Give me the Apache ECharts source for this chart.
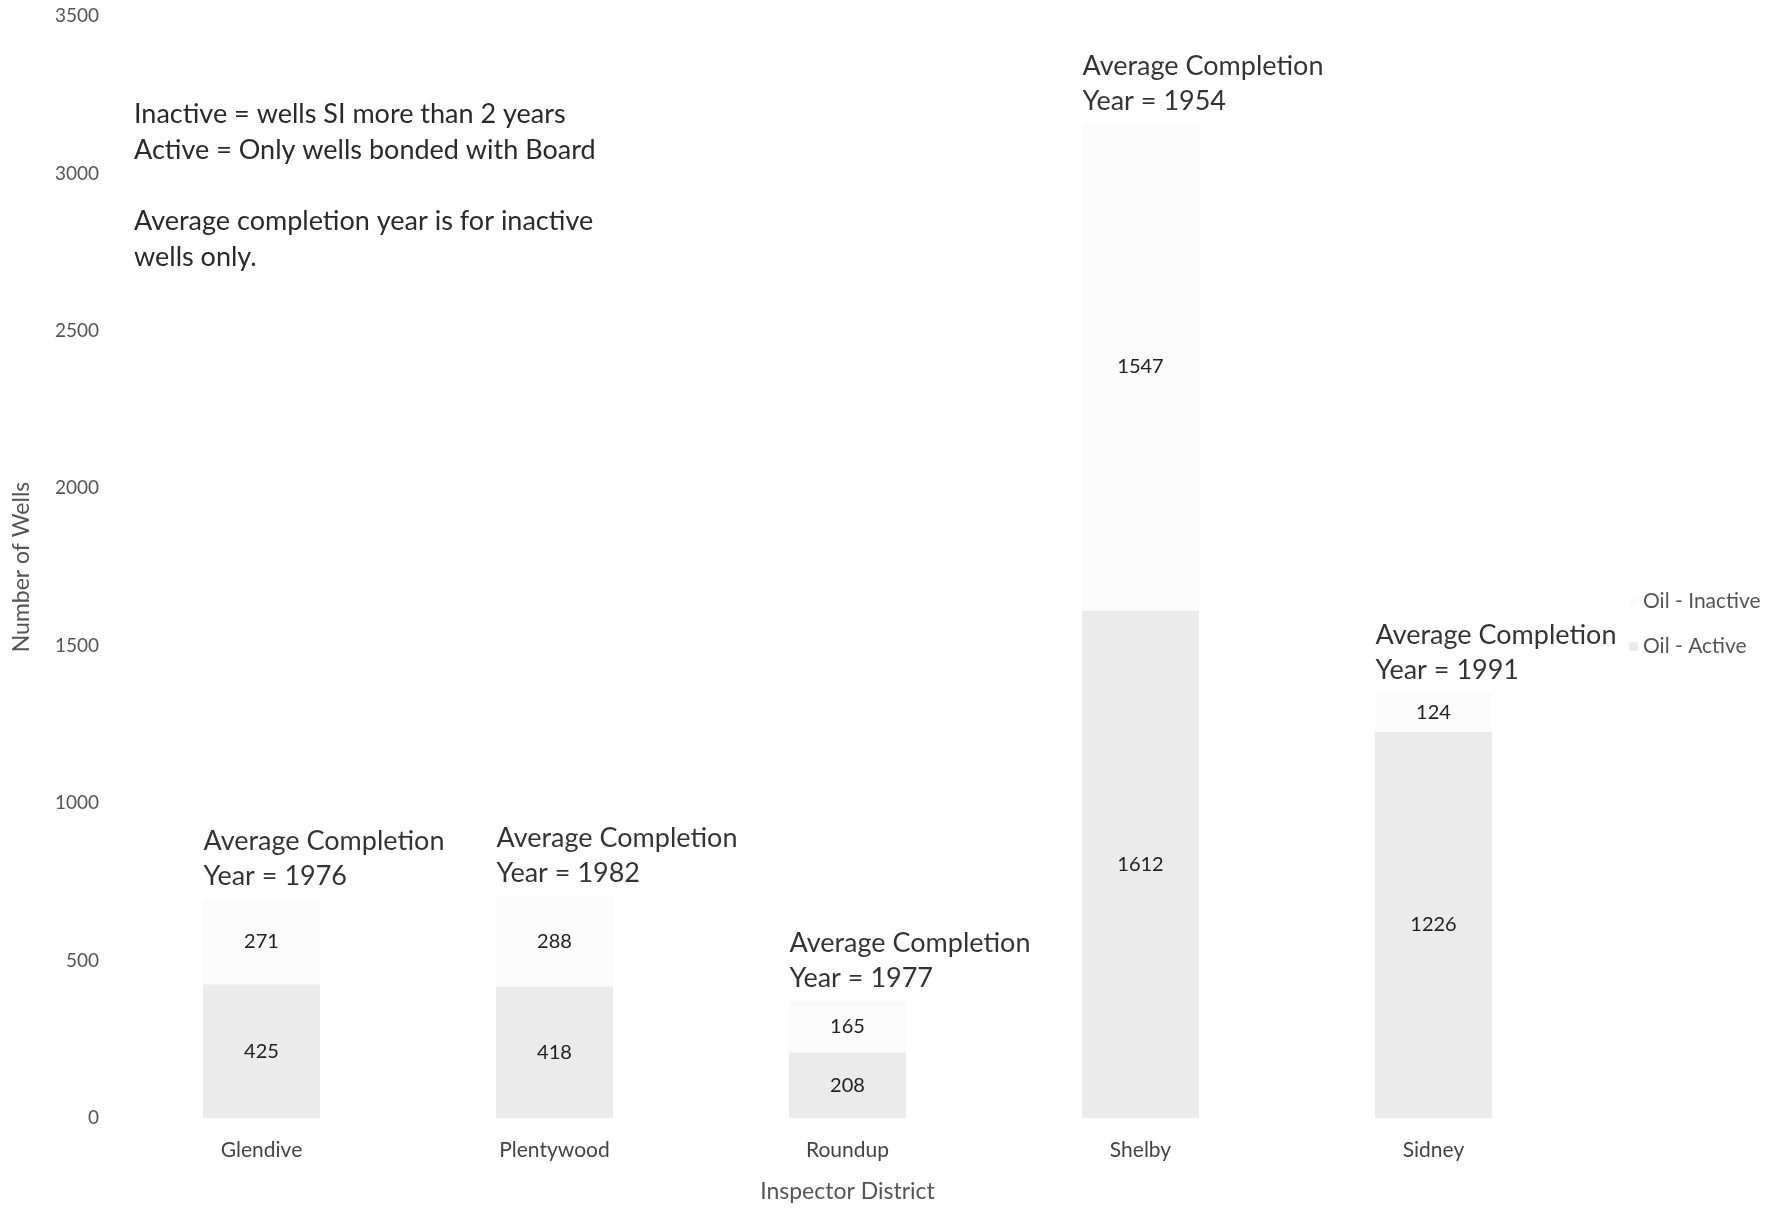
<!DOCTYPE html>
<html>
<head>
<meta charset="utf-8">
<script src="https://cdn.jsdelivr.net/npm/echarts@6/dist/echarts.min.js"></script>
<style>
  html, body { margin: 0; padding: 0; background: #fff; }
  #wells { width: 1780px; height: 1208px; }
</style>
</head>
<body>
<div id="wells"></div>
<script>
// inspector districts and well counts
var districts = ['Glendive', 'Plentywood', 'Roundup', 'Shelby', 'Sidney'];
var oilActive = [425, 418, 208, 1612, 1226];
var oilInactive = [271, 288, 165, 1547, 124];
var completionYears = [1976, 1982, 1977, 1954, 1991];
var yTicks = [0, 500, 1000, 1500, 2000, 2500, 3000, 3500];

var font = 'Lato, "Open Sans", sans-serif';

// total height of each stack, used to hang the completion-year note above it
var totals = oilActive.map(function (v, i) { return v + oilInactive[i]; });

var option = {
    animation: false,
    textStyle: { fontFamily: font },
    grid: { left: 115, right: 200, top: 16, bottom: 90 },
    legend: {
        data: ['Oil - Inactive', 'Oil - Active'],
        orient: 'vertical',
        left: 1624,
        top: 586,
        itemWidth: 9,
        itemHeight: 9,
        itemGap: 24,
        textStyle: { fontSize: 21, color: '#555', fontFamily: font }
    },
    graphic: [{
        type: 'text',
        left: 134,
        top: 96,
        style: {
            text: 'Inactive = wells SI more than 2 years\nActive = Only wells bonded with Board',
            font: '27px ' + font,
            fill: '#2a2a2a',
            lineHeight: 36
        }
    }, {
        type: 'text',
        left: 134,
        top: 203,
        style: {
            text: 'Average completion year is for inactive\nwells only.',
            font: '27px ' + font,
            fill: '#2a2a2a',
            lineHeight: 36
        }
    }],
    xAxis: {
        type: 'category',
        data: districts,
        name: 'Inspector District',
        nameLocation: 'middle',
        nameGap: 62,
        nameTextStyle: { fontSize: 23, color: '#555' },
        axisLine: { show: false },
        axisTick: { show: false },
        axisLabel: { fontSize: 21, color: '#444', margin: 22 }
    },
    yAxis: {
        type: 'value',
        min: 0,
        max: 3500,
        interval: 500,
        name: 'Number of Wells',
        nameLocation: 'middle',
        nameGap: 82,
        nameTextStyle: { fontSize: 23, color: '#555' },
        axisLine: { show: false },
        axisTick: { show: false },
        splitLine: { show: false },
        axisLabel: {
            fontSize: 19,
            color: '#555',
            margin: 16,
            formatter: function (v) { return yTicks.indexOf(v) >= 0 ? String(v) : ''; }
        }
    },
    series: [
        {
            name: 'Oil - Active',
            type: 'bar',
            stack: 'wells',
            barWidth: 117,
            itemStyle: { color: '#ebebeb' },
            label: { show: true, position: 'inside', fontSize: 20, color: '#222' },
            data: oilActive
        },
        {
            name: 'Oil - Inactive',
            type: 'bar',
            stack: 'wells',
            barWidth: 117,
            itemStyle: { color: '#fbfbfb' },
            label: { show: true, position: 'inside', fontSize: 20, color: '#222' },
            data: oilInactive
        },
        {
            name: 'note',
            type: 'scatter',
            symbolSize: 0,
            silent: true,
            label: {
                show: true,
                position: 'top',
                distance: 5,
                align: 'left',
                offset: [-58, 0],
                fontSize: 27,
                lineHeight: 35,
                color: '#000',
                formatter: function (p) {
                    return 'Average Completion\nYear = ' + completionYears[p.dataIndex];
                }
            },
            data: totals
        }
    ]
};

var chart = echarts.init(document.getElementById('wells'));
chart.setOption(option);
</script>
</body>
</html>
